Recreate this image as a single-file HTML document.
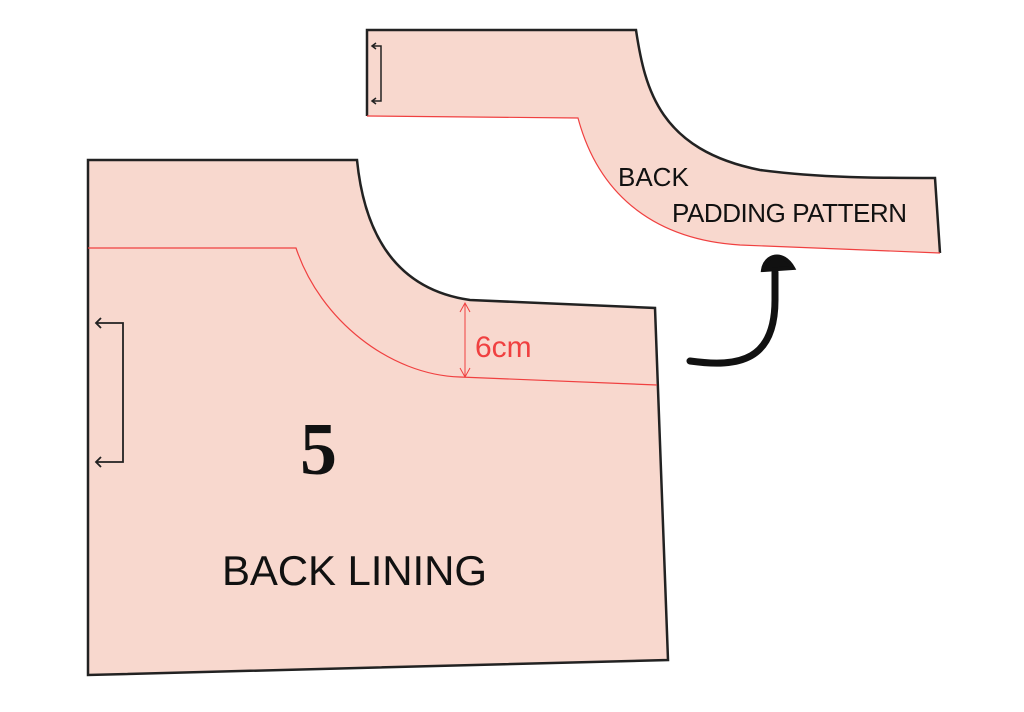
<!DOCTYPE html>
<html><head><style>body{margin:0;background:#fff}svg{display:block}</style></head>
<body>
<svg width="1024" height="712" viewBox="0 0 1024 712" xmlns="http://www.w3.org/2000/svg">
<path d="M367,30 L636,30 C645,90 660,150 760,170 C820,178 880,178 935,178 L940,253 L740,245 C660,240 600,200 578,118 L367,116 Z" fill="#f8d8ce" stroke="none"/>
<path d="M367,116 L367,30 L636,30 C645,90 660,150 760,170 C820,178 880,178 935,178 L940,253" fill="none" stroke="#222" stroke-width="2.5"/>
<path d="M367,116 L578,118 C600,200 660,240 740,245 L940,253" fill="none" stroke="#f04040" stroke-width="1.2"/>
<path d="M372,46 L381,46 L381,101 L372,101 M376,43 L372,46 L376,49 M376,98 L372,101 L376,104" fill="none" stroke="#222" stroke-width="1.5"/>
<path d="M88,160 L357,160 C365,240 400,290 470,300 L655,308 L668,660 L88,675 Z" fill="#f8d8ce" stroke="#222" stroke-width="2.5"/>
<path d="M88,248 L296,248 C320,320 390,375 460,377 L657,385" fill="none" stroke="#f04040" stroke-width="1.2"/>
<path d="M465,303 L465,377 M460,312 L465,303 L470,312 M460,368 L465,377 L470,368" fill="none" stroke="#f04040" stroke-width="1"/>
<text x="475" y="357" font-family="Liberation Sans, sans-serif" font-size="30" fill="#f04040">6cm</text>
<path d="M96,323 L123,323 L123,462 L96,462 M101,318 L96,323 L101,328 M101,457 L96,462 L101,467" fill="none" stroke="#222" stroke-width="1.8"/>
<text x="300" y="474" font-family="Liberation Serif, serif" font-weight="bold" font-size="74" fill="#111">5</text>
<text x="222" y="585" font-family="Liberation Sans, sans-serif" font-size="42" fill="#111" textLength="265">BACK LINING</text>
<text x="618" y="186" font-family="Liberation Sans, sans-serif" font-size="26" fill="#111">BACK</text>
<text x="672" y="222" font-family="Liberation Sans, sans-serif" font-size="26" fill="#111" textLength="235">PADDING PATTERN</text>
<path d="M690,361 C740,368 775,360 775,300 L775,272" fill="none" stroke="#111" stroke-width="7" stroke-linecap="round"/>
<path d="M763,270 C765,255 783,250 793,268 Z" fill="#111" stroke="#111" stroke-width="4"/>
</svg>
</body></html>
